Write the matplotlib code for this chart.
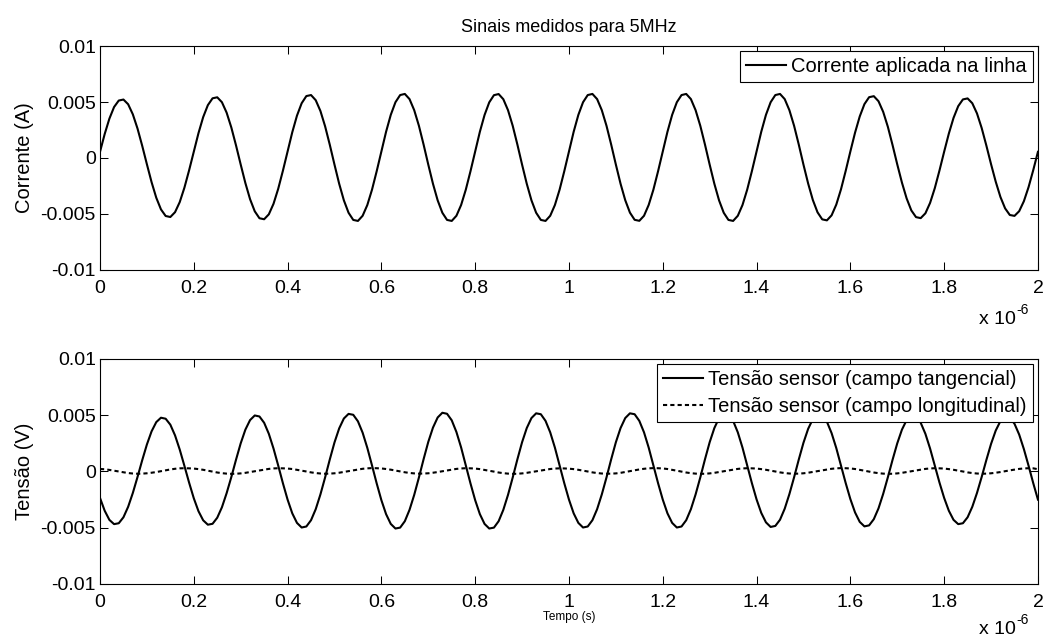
import numpy as np
import matplotlib
matplotlib.use("Agg")
import matplotlib.pyplot as plt
from matplotlib.ticker import FuncFormatter, MultipleLocator

plt.rcParams['font.family'] = ['Liberation Sans', 'DejaVu Sans']

# amostras a cada 0.01 us (20 por periodo de 0.2 us), 0 .. 2 us
corrente_mA = [
    0.55, 2.14, 3.51, 4.55, 5.13, 5.22, 4.80, 3.90, 2.63, 1.09, -0.56, -2.16, -3.55, -4.59, -5.18, -5.27, -4.84, -3.94, -2.65, -1.10,
    0.57, 2.22, 3.65, 4.72, 5.33, 5.42, 4.98, 4.05, 2.73, 1.13, -0.58, -2.24, -3.68, -4.76, -5.38, -5.47, -5.03, -4.09, -2.75, -1.14,
    0.59, 2.30, 3.78, 4.89, 5.53, 5.62, 5.16, 4.20, 2.83, 1.18, -0.59, -2.30, -3.78, -4.89, -5.53, -5.62, -5.16, -4.20, -2.83, -1.18,
    0.60, 2.34, 3.85, 4.98, 5.62, 5.72, 5.26, 4.27, 2.88, 1.20, -0.59, -2.30, -3.78, -4.89, -5.53, -5.62, -5.16, -4.20, -2.83, -1.18,
    0.60, 2.34, 3.84, 4.97, 5.61, 5.71, 5.25, 4.27, 2.88, 1.20, -0.59, -2.30, -3.78, -4.89, -5.53, -5.62, -5.16, -4.20, -2.83, -1.18,
    0.60, 2.34, 3.85, 4.98, 5.62, 5.72, 5.26, 4.27, 2.88, 1.20, -0.59, -2.30, -3.77, -4.88, -5.52, -5.61, -5.16, -4.19, -2.83, -1.18,
    0.60, 2.34, 3.85, 4.98, 5.62, 5.72, 5.26, 4.27, 2.88, 1.20, -0.59, -2.30, -3.78, -4.89, -5.53, -5.62, -5.16, -4.20, -2.83, -1.18,
    0.60, 2.34, 3.85, 4.98, 5.62, 5.72, 5.26, 4.27, 2.88, 1.20, -0.59, -2.28, -3.75, -4.85, -5.48, -5.57, -5.12, -4.16, -2.80, -1.16,
    0.58, 2.26, 3.71, 4.81, 5.43, 5.52, 5.07, 4.12, 2.78, 1.15, -0.57, -2.20, -3.61, -4.68, -5.28, -5.37, -4.94, -4.01, -2.70, -1.12,
    0.56, 2.18, 3.58, 4.63, 5.23, 5.32, 4.89, 3.98, 2.68, 1.11, -0.55, -2.12, -3.48, -4.50, -5.09, -5.17, -4.75, -3.86, -2.60, -1.08,
    0.55,
]

tensao_tang_mV = [
    -2.35, -3.49, -4.30, -4.68, -4.60, -4.07, -3.14, -1.91, -0.49, 1.00, 2.40, 3.57, 4.39, 4.78, 4.69, 4.16, 3.21, 1.95, 0.50, -0.99,
    -2.38, -3.53, -4.34, -4.73, -4.65, -4.11, -3.18, -1.93, -0.50, 1.04, 2.50, 3.72, 4.57, 4.98, 4.89, 4.33, 3.35, 2.04, 0.53, -1.04,
    -2.50, -3.72, -4.57, -4.98, -4.89, -4.33, -3.35, -2.04, -0.53, 1.07, 2.58, 3.83, 4.71, 5.12, 5.04, 4.46, 3.45, 2.10, 0.54, -1.06,
    -2.55, -3.79, -4.66, -5.07, -4.99, -4.42, -3.41, -2.08, -0.54, 1.09, 2.63, 3.90, 4.80, 5.22, 5.13, 4.55, 3.51, 2.14, 0.55, -1.06,
    -2.55, -3.79, -4.66, -5.07, -4.99, -4.42, -3.41, -2.08, -0.54, 1.08, 2.60, 3.86, 4.75, 5.17, 5.09, 4.50, 3.48, 2.12, 0.55, -1.04,
    -2.50, -3.72, -4.57, -4.98, -4.89, -4.33, -3.35, -2.04, -0.53, 1.08, 2.60, 3.86, 4.75, 5.17, 5.09, 4.50, 3.48, 2.12, 0.55, -1.04,
    -2.50, -3.72, -4.57, -4.98, -4.89, -4.33, -3.35, -2.04, -0.53, 1.08, 2.60, 3.86, 4.75, 5.17, 5.09, 4.50, 3.48, 2.12, 0.55, -1.03,
    -2.48, -3.68, -4.52, -4.93, -4.84, -4.29, -3.31, -2.01, -0.52, 1.06, 2.55, 3.79, 4.66, 5.07, 4.99, 4.42, 3.41, 2.08, 0.54, -1.02,
    -2.45, -3.64, -4.48, -4.88, -4.79, -4.24, -3.28, -1.99, -0.51, 1.04, 2.50, 3.72, 4.57, 4.98, 4.89, 4.33, 3.35, 2.04, 0.53, -0.98,
    -2.35, -3.49, -4.30, -4.68, -4.60, -4.07, -3.14, -1.91, -0.49, 1.02, 2.45, 3.64, 4.48, 4.88, 4.79, 4.24, 3.28, 1.99, 0.51, -1.04,
    -2.50,
]

tensao_long_mV = [
    0.22, 0.20, 0.14, 0.07, 0.00, -0.08, -0.14, -0.18, -0.20, -0.19, -0.16, -0.11, -0.05, 0.03, 0.11, 0.18, 0.24, 0.28, 0.29, 0.28,
    0.26, 0.21, 0.15, 0.07, -0.01, -0.09, -0.15, -0.19, -0.21, -0.20, -0.17, -0.12, -0.05, 0.02, 0.10, 0.17, 0.23, 0.27, 0.29, 0.28,
    0.26, 0.22, 0.15, 0.08, 0.00, -0.08, -0.14, -0.18, -0.20, -0.19, -0.16, -0.11, -0.04, 0.03, 0.11, 0.18, 0.24, 0.28, 0.30, 0.29,
    0.27, 0.22, 0.16, 0.08, 0.00, -0.07, -0.13, -0.17, -0.19, -0.18, -0.16, -0.11, -0.05, 0.02, 0.10, 0.17, 0.23, 0.27, 0.29, 0.28,
    0.26, 0.21, 0.14, 0.07, -0.01, -0.09, -0.15, -0.19, -0.21, -0.20, -0.17, -0.12, -0.05, 0.02, 0.09, 0.16, 0.22, 0.26, 0.28, 0.27,
    0.25, 0.21, 0.15, 0.08, 0.00, -0.08, -0.14, -0.18, -0.20, -0.19, -0.17, -0.12, -0.05, 0.03, 0.11, 0.18, 0.24, 0.28, 0.30, 0.29,
    0.27, 0.22, 0.15, 0.07, -0.01, -0.09, -0.15, -0.19, -0.21, -0.20, -0.17, -0.12, -0.05, 0.02, 0.10, 0.17, 0.23, 0.27, 0.29, 0.28,
    0.26, 0.21, 0.15, 0.08, 0.00, -0.08, -0.14, -0.18, -0.20, -0.19, -0.16, -0.11, -0.04, 0.03, 0.11, 0.18, 0.24, 0.28, 0.30, 0.29,
    0.27, 0.22, 0.15, 0.07, -0.01, -0.09, -0.15, -0.19, -0.21, -0.20, -0.17, -0.12, -0.05, 0.02, 0.10, 0.17, 0.23, 0.27, 0.29, 0.28,
    0.26, 0.21, 0.15, 0.08, 0.00, -0.08, -0.14, -0.18, -0.20, -0.19, -0.16, -0.11, -0.05, 0.03, 0.10, 0.17, 0.23, 0.27, 0.29, 0.28,
    0.20,
]

dt_us = 0.01
t_us = np.arange(len(corrente_mA)) * dt_us

corrente = np.array(corrente_mA) * 1e-3
v_tang = np.array(tensao_tang_mV) * 1e-3
v_long = np.array(tensao_long_mV) * 1e-3

FS_TICK = 14
FS_LAB = 14.5
FS_LEG = 14.5


def estilo(ax):
    ax.set_xlim(0, 2)
    ax.set_ylim(-0.01, 0.01)
    ax.xaxis.set_major_locator(MultipleLocator(0.2))
    ax.yaxis.set_major_locator(MultipleLocator(0.005))
    ax.xaxis.set_major_formatter(FuncFormatter(lambda v, p: '%g' % round(v, 6)))
    ax.yaxis.set_major_formatter(FuncFormatter(lambda v, p: '%g' % round(v, 6)))
    ax.tick_params(direction='in', length=6, width=0.75, top=True, right=True,
                   labelsize=FS_TICK)
    ax.tick_params(axis='x', pad=7)
    ax.tick_params(axis='y', pad=3)
    for s in ax.spines.values():
        s.set_linewidth(0.8)


def escala(ax, dy):
    # "x 10^-6" no canto inferior direito, estilo MATLAB
    ax.annotate('x 10', xy=(1, 0), xycoords='axes fraction',
                xytext=(-16, dy), textcoords='offset points', ha='right',
                va='center', fontsize=FS_TICK)
    ax.annotate('-6', xy=(1, 0), xycoords='axes fraction',
                xytext=(-15.5, dy + 7), textcoords='offset points', ha='left',
                va='center', fontsize=10)


fig = plt.figure(figsize=(10.46, 6.39), dpi=100)
ax1 = fig.add_axes([0.0956, 0.5775, 0.8967, 0.3505])
ax2 = fig.add_axes([0.0956, 0.0861, 0.8967, 0.3521])

ax1.plot(t_us, corrente, color='black', lw=1.5, label='Corrente aplicada na linha')
estilo(ax1)
ax1.set_ylabel('Corrente (A)', fontsize=FS_LAB, labelpad=5)
ax1.set_title('Sinais medidos para 5MHz', fontsize=13, pad=10)
ax1.legend(loc='upper right', fontsize=FS_LEG, fancybox=False, edgecolor='black',
           framealpha=1, handlelength=2.0, handletextpad=0.25, borderpad=0.3,
           borderaxespad=0.25).get_frame().set_linewidth(0.8)
escala(ax1, -36)

ax2.plot(t_us, v_tang, color='black', lw=1.5, label='Tensão sensor (campo tangencial)')
ax2.plot(t_us, v_long, color='black', lw=1.5, ls=(0, (2, 1.5)),
         label='Tensão sensor (campo longitudinal)')
estilo(ax2)
ax2.set_ylabel('Tensão (V)', fontsize=FS_LAB, labelpad=5)
ax2.set_xlabel('Tempo (s)', fontsize=8.5, labelpad=0)
ax2.legend(loc='upper right', fontsize=FS_LEG, fancybox=False, edgecolor='black',
           framealpha=1, handlelength=2.0, handletextpad=0.25, borderpad=0.3,
           labelspacing=0.4, borderaxespad=0.25).get_frame().set_linewidth(0.8)
escala(ax2, -33)

fig.savefig('out.png', dpi=100)
